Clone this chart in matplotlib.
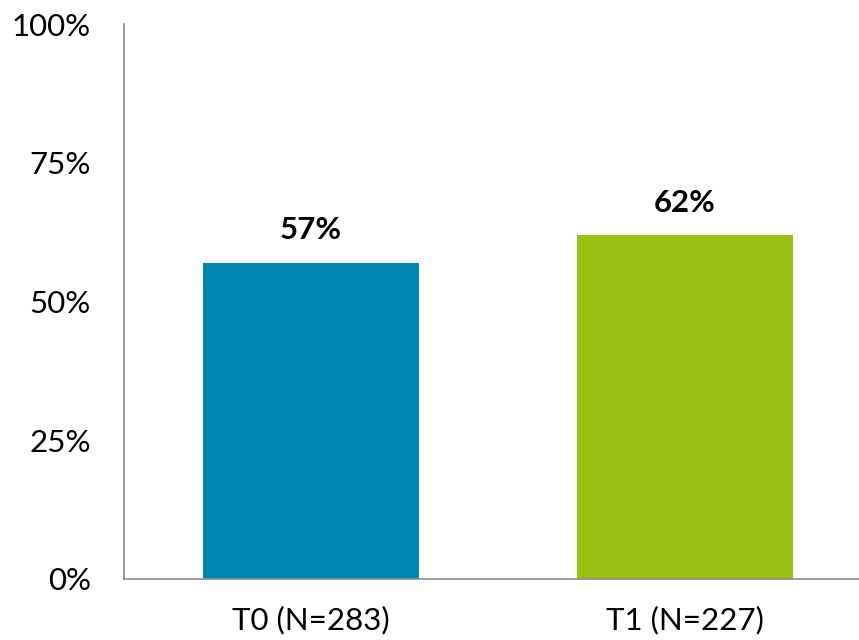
import matplotlib
matplotlib.use("Agg")
import matplotlib.pyplot as plt
from matplotlib.ticker import FuncFormatter

# data
categories = ["T0 (N=283)", "T1 (N=227)"]
values = [57, 62]
colors = ["#0086B0", "#9AC013"]
yticks = [0, 25, 50, 75, 100]

plt.rcParams["font.family"] = ["Lato", "DejaVu Sans"]

fig = plt.figure(figsize=(8.59, 6.40), dpi=100)
ax = fig.add_axes([124 / 859, 61 / 640, 748 / 859, 555 / 640])

x = list(range(len(categories)))
ax.bar(x, values, width=0.575, color=colors)

for xi, v in zip(x, values):
    ax.text(xi, v + 3.3, f"{v}%", ha="center", va="bottom",
            fontsize=22.5, fontweight="bold", color="black")

ax.set_xlim(-0.5, 1.5)
ax.set_ylim(0, 100)
ax.set_yticks(yticks)
ax.yaxis.set_major_formatter(FuncFormatter(lambda v, _: f"{v:.0f}%"))
ax.set_xticks(x)
ax.set_xticklabels(categories)
ax.tick_params(axis="both", length=0, labelsize=22.5, colors="black")
ax.tick_params(axis="y", pad=24)
ax.tick_params(axis="x", pad=19)

for side in ("top", "right"):
    ax.spines[side].set_visible(False)
for side in ("left", "bottom"):
    ax.spines[side].set_color("#8c8c8c")
    ax.spines[side].set_linewidth(1.2)

fig.savefig("out.png", dpi=100)
